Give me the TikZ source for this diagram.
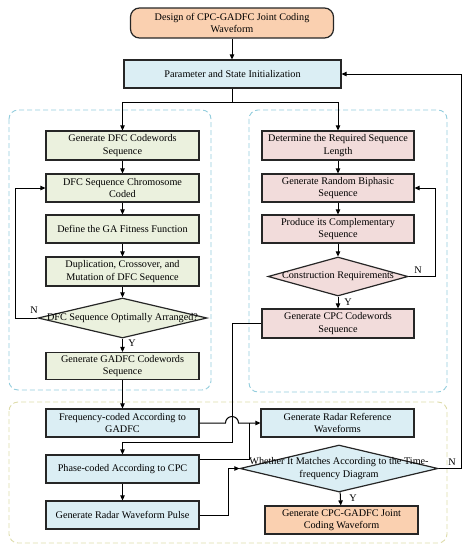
\documentclass[tikz,border=0pt]{standalone}
\usepackage{fontspec}
\setmainfont{Liberation Serif}
\usetikzlibrary{shapes.geometric,arrows.meta}
\definecolor{cgreen}{HTML}{EBF1DE}
\definecolor{cpink}{HTML}{F2DCDB}
\definecolor{cblue}{HTML}{DBEEF4}
\definecolor{corange}{HTML}{FAD0B0}
\definecolor{cdashblue}{HTML}{93CDDD}
\definecolor{cdashyel}{HTML}{DEDCAA}
\definecolor{cedge}{HTML}{262626}
\begin{document}
\begin{tikzpicture}[x=1pt,y=-1pt,
  font=\fontsize{10.2}{12.5}\selectfont,
  box/.style={draw=cedge, line width=1.2pt, minimum width=153pt, minimum height=28pt, align=center, inner sep=1pt},
  dia/.style={draw=cedge, line width=1.2pt, diamond, inner sep=0pt},
  arr/.style={draw=black, line width=1pt, -{Triangle[length=5pt,width=4.5pt]}},
  ln/.style={draw=black, line width=1pt},
  region/.style={dash pattern=on 5pt off 3pt, line width=0.9pt, rounded corners=9pt},
  lab/.style={inner sep=0pt}]
\useasboundingbox (0,0) rectangle (471,550);
% dashed regions
\draw[region, cdashblue] (9,110) rectangle (211,390);
\draw[region, cdashblue] (249,110) rectangle (447,392);
\draw[region, cdashyel] (9,402) rectangle (447,543);
% nodes
\node[box, fill=corange, rounded corners=9pt, minimum width=203pt, minimum height=30pt] (top) at (232,23) {Design of CPC-GADFC Joint Coding\\Waveform};
\node[box, fill=cblue, minimum width=217pt] (param) at (232.5,74) {Parameter and State Initialization};
\node[box, fill=cgreen, minimum height=29pt] (L1) at (122.5,145.5) {Generate DFC Codewords\\Sequence};
\node[box, fill=cgreen] (L2) at (122.5,188) {DFC Sequence Chromosome\\Coded};
\node[box, fill=cgreen] (L3) at (122.5,229) {Define the GA Fitness Function};
\node[box, fill=cgreen, minimum height=29pt] (L4) at (122.5,271.5) {Duplication, Crossover, and\\Mutation of DFC Sequence};
\node[dia, fill=cgreen, minimum width=169pt, minimum height=40pt] (LD) at (122.5,318) {};
\node at (LD) {DFC Sequence Optimally Arranged?};
\node[box, fill=cgreen, minimum height=27pt] (L5) at (122.5,366) {Generate GADFC Codewords\\Sequence};
\node[box, fill=cpink, minimum width=152pt, minimum height=29pt] (R1) at (338,145.5) {Determine the Required Sequence\\Length};
\node[box, fill=cpink, minimum width=152pt] (R2) at (338,188) {Generate Random Biphasic\\Sequence};
\node[box, fill=cpink, minimum width=152pt] (R3) at (338,229) {Produce its Complementary\\Sequence};
\node[dia, fill=cpink, minimum width=140pt, minimum height=39pt] (RD) at (338,276.5) {};
\node at (RD) {Construction Requirements};
\node[box, fill=cpink, minimum width=152pt, minimum height=29pt] (R4) at (338,323.5) {Generate CPC Codewords\\Sequence};
\node[box, fill=cblue] (F) at (122.5,423) {Frequency-coded According to\\GADFC};
\node[box, fill=cblue] (P) at (122.5,469) {Phase-coded According to CPC};
\node[box, fill=cblue] (G) at (122.5,515) {Generate Radar Waveform Pulse};
\node[box, fill=cblue] (Ref) at (337.5,423) {Generate Radar Reference\\Waveforms};
\node[dia, fill=cblue, minimum width=198pt, minimum height=47pt] (MD) at (339,468.5) {};
\node[align=center] at (MD) {Whether It Matches According to the Time-\\frequency Diagram};
\node[box, fill=corange] (fin) at (341.5,520) {Generate CPC-GADFC Joint\\Coding Waveform};
% connectors
\draw[arr] (top.south) -- (top.south |- param.north);
\draw[arr] (param.south) -- ++(0,14) -| (L1.north);
\draw[arr] (param.south) -- ++(0,14) -| (R1.north);
\draw[arr] (L1) -- (L2);
\draw[arr] (L2) -- (L3);
\draw[arr] (L3) -- (L4);
\draw[arr] (L4) -- (LD);
\draw[arr] (LD) -- (L5);
\draw[arr] (LD.west) -- (15,318) |- (L2.west);
\node[lab] at (34,310) {N};
\node[lab] at (132,343) {Y};
\draw[arr] (L5) -- (F);
\draw[arr] (R1) -- (R2);
\draw[arr] (R2) -- (R3);
\draw[arr] (R3) -- (RD);
\draw[arr] (RD) -- (R4);
\draw[arr] (RD.east) -- (435,276.5) |- (R2.east);
\node[lab] at (418,270) {N};
\node[lab] at (348,302) {Y};
\draw[arr] (R4.west) -| (232,442) -| (P.north);
\draw[arr] (F.east) -- (225.5,423) arc[start angle=180, end angle=360, radius=6.5] -- (Ref.west);
\draw[ln] ([yshift=10pt]P.east) -| (249,423);
\draw[arr] (G.east) -- (228,515) |- (MD.west);
\draw[arr] (P) -- (G);
\draw[arr] (MD) -- (fin);
\node[lab] at (353,498) {Y};
\draw[arr] (MD.east) -- (461,468.5) |- (param.east);
\node[lab] at (452,462) {N};
\end{tikzpicture}
\end{document}
